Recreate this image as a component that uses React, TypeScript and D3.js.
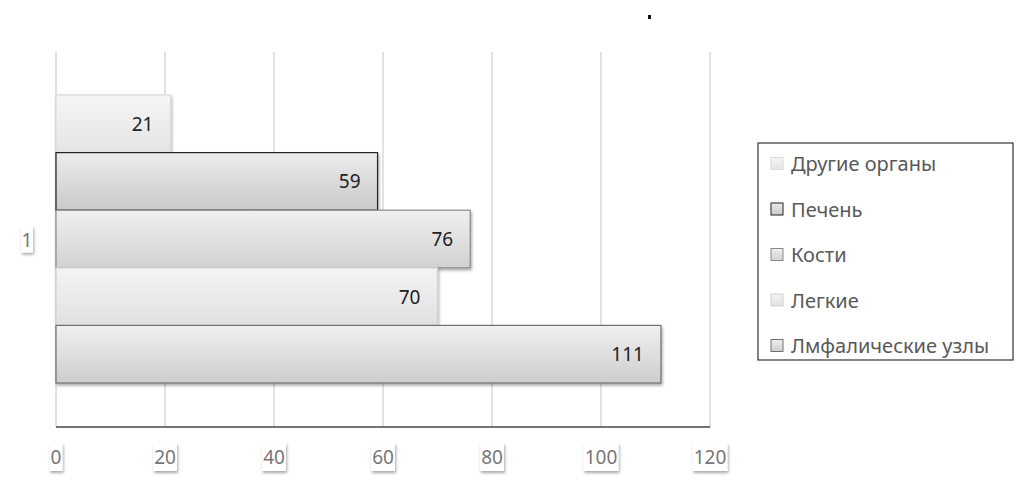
import React from "react";
import * as d3 from "d3";

const categories = ["1"];
const seriesNames = ["Другие органы", "Печень", "Кости", "Легкие", "Лмфалические узлы"];
const seriesValues = [21, 59, 76, 70, 111];
const xTicks = [0, 20, 40, 60, 80, 100, 120];

const fillTop = ["#f6f6f6", "#ececec", "#efefef", "#f4f4f4", "#f0f0f0"];
const fillBottom = ["#e4e4e4", "#c9c9c9", "#d2d2d2", "#e0e0e0", "#cdcdcd"];
const strokes = ["#dadada", "#222222", "#8a8a8a", "#cfcfcf", "#707070"];

const W = 1017;
const H = 483;
const FONT = "'Noto Sans', 'Open Sans', sans-serif";

export default function App() {
  const x = d3.scaleLinear().domain([0, 120]).range([56, 710]);
  const yCat = d3.scaleBand().domain(categories).range([52, 427]);
  const yS = d3.scaleBand().domain(seriesNames).range([95, 383]).padding(0);
  const plotTop = 52;
  const plotBottom = 427;

  const legendX = 758;
  const legendY = 143;
  const legendW = 255;
  const legendH = 217;
  const legendRow = d3.scaleBand().domain(seriesNames).range([140.75, 368.25]);

  return (
    <svg width={W} height={H} style={{ position: "absolute", left: 0, top: 0, background: "#fff" }}>
      <defs>
        {seriesNames.map((s, i) => (
          <linearGradient key={s} id={`g${i}`} x1="0" y1="0" x2="0" y2="1">
            <stop offset="0" stopColor={fillTop[i]} />
            <stop offset="1" stopColor={fillBottom[i]} />
          </linearGradient>
        ))}
        <filter id="shadow" x="-30%" y="-20%" width="160%" height="160%">
          <feGaussianBlur in="SourceAlpha" stdDeviation="1.5" />
          <feOffset dx="1" dy="2" result="ob" />
          <feComponentTransfer>
            <feFuncA type="linear" slope="0.35" />
          </feComponentTransfer>
          <feMerge>
            <feMergeNode />
            <feMergeNode in="SourceGraphic" />
          </feMerge>
        </filter>
      </defs>

      {/* gridlines */}
      {xTicks.map((t) => (
        <line key={t} x1={x(t)} x2={x(t)} y1={plotTop} y2={plotBottom} stroke="#d9d9d9" strokeWidth={1.5} />
      ))}

      {/* bars */}
      {seriesNames.map((s, i) => {
        const y0 = yS(s)!;
        const h = yS.bandwidth();
        const w = x(seriesValues[i]) - x(0);
        return (
          <g key={s}>
            <rect x={x(0)} y={y0} width={w} height={h} fill={`url(#g${i})`} stroke={strokes[i]} strokeWidth={1.2} filter="url(#shadow)" />
            <text x={x(seriesValues[i]) - 17} y={y0 + h / 2} textAnchor="end" dominantBaseline="central" fontFamily={FONT} fontSize={19} fill="#222">
              {seriesValues[i]}
            </text>
          </g>
        );
      })}

      {/* axis line */}
      <line x1={x(0)} x2={x(120)} y1={plotBottom} y2={plotBottom} stroke="#444" strokeWidth={1.5} />

      {/* x tick labels */}
      {xTicks.map((t) => {
        const label = String(t);
        const bw = label.length * 11 + 2;
        return (
          <g key={t} transform={`translate(${x(t)},457)`}>
            <rect x={-bw / 2} y={-14} width={bw} height={28} fill="#fff" filter="url(#shadow)" />
            <text x={0} y={0} textAnchor="middle" dominantBaseline="central" fontFamily={FONT} fontSize={19} fill="#777">
              {label}
            </text>
          </g>
        );
      })}

      {/* category label */}
      {categories.map((c) => (
        <g key={c} transform={`translate(27,${yCat(c)! + yCat.bandwidth() / 2})`}>
          <rect x={-6} y={-13} width={12} height={26} fill="#fff" filter="url(#shadow)" />
          <text x={0} y={0} textAnchor="middle" dominantBaseline="central" fontFamily={FONT} fontSize={19} fill="#777">
            {c}
          </text>
        </g>
      ))}

      {/* stray dot */}
      <rect x={648} y={15} width={3} height={4} fill="#111" />

      {/* legend */}
      <rect x={legendX} y={legendY} width={legendW} height={legendH} fill="#fff" stroke="#333" strokeWidth={1.2} />
      {seriesNames.map((s, i) => {
        const cy = legendRow(s)! + legendRow.bandwidth() / 2;
        return (
          <g key={s}>
            <rect x={771} y={cy - 6} width={12} height={12} fill={`url(#g${i})`} stroke={strokes[i]} strokeWidth={1} />
            <text x={791} y={cy} dominantBaseline="central" fontFamily={FONT} fontSize={20} fill="#595959">
              {s}
            </text>
          </g>
        );
      })}
    </svg>
  );
}
